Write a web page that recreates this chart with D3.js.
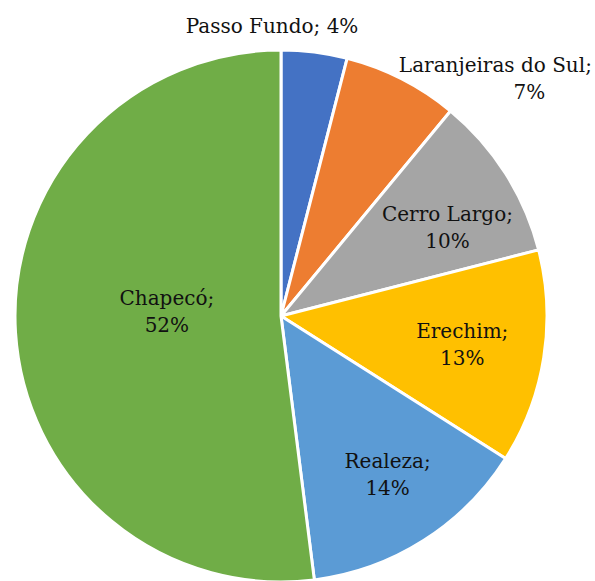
<!DOCTYPE html>
<html>
<head>
<meta charset="utf-8">
<script src="https://cdn.jsdelivr.net/npm/d3@7/dist/d3.min.js"></script>
<style>
html,body{margin:0;padding:0;background:#fff;}
svg text{font-family:"DejaVu Serif",serif;font-size:20px;fill:#111;}
</style>
</head>
<body>
<svg id="chart" width="595" height="581"></svg>
<script>
const categories = ["Passo Fundo", "Laranjeiras do Sul", "Cerro Largo", "Erechim", "Realeza", "Chapecó"];
const values = [4, 7, 10, 13, 14, 52];
const colors = ["#4472C4", "#ED7D31", "#A5A5A5", "#FFC000", "#5B9BD5", "#70AD47"];

// label layout: radius (fraction of r), offsets
const labelLayout = [
  {rf: 1.11, oneLine: true, dx: -46, dy: 3, dx2: 0},
  {rf: 1.03, oneLine: false, dx: 90, dy: 6.5, dx2: 34},
  {rf: 0.71, oneLine: false, dx: 7, dy: 13, dx2: 0},
  {rf: 0.69, oneLine: false, dx: 0, dy: 0, dx2: 0},
  {rf: 0.72, oneLine: false, dx: 4, dy: -3, dx2: 0},
  {rf: 0.43, oneLine: false, dx: 0, dy: -12, dx2: 0}
];

const svg = d3.select("#chart");
const cx = 281, cy = 316, r = 266;
const g = svg.append("g").attr("transform", `translate(${cx},${cy})`);

const pie = d3.pie().sort(null).value(d => d.v);
const data = categories.map((c, i) => ({c, v: values[i], i}));
const arcs = pie(data);
const arc = d3.arc().innerRadius(0).outerRadius(r);

g.selectAll("path").data(arcs).enter().append("path")
  .attr("d", arc)
  .attr("fill", d => colors[d.data.i])
  .attr("stroke", "#fff")
  .attr("stroke-width", 3)
  .attr("stroke-linejoin", "round");

arcs.forEach(d => {
  const L = labelLayout[d.data.i];
  const a = (d.startAngle + d.endAngle) / 2;
  const rr = r * L.rf;
  let x = Math.sin(a) * rr + L.dx, y = -Math.cos(a) * rr + L.dy;
  const pct = d.data.v + "%";
  if (L.oneLine) {
    g.append("text").attr("x", x).attr("y", y).attr("text-anchor", "middle")
      .attr("dominant-baseline", "central").text(d.data.c + "; " + pct);
  } else {
    const t = g.append("text").attr("text-anchor", "middle");
    t.append("tspan").attr("x", x).attr("y", y - 13.5).attr("dominant-baseline", "central").text(d.data.c + ";");
    t.append("tspan").attr("x", x + L.dx2).attr("y", y + 13.5).attr("dominant-baseline", "central").text(pct);
  }
});
</script>
</body>
</html>
